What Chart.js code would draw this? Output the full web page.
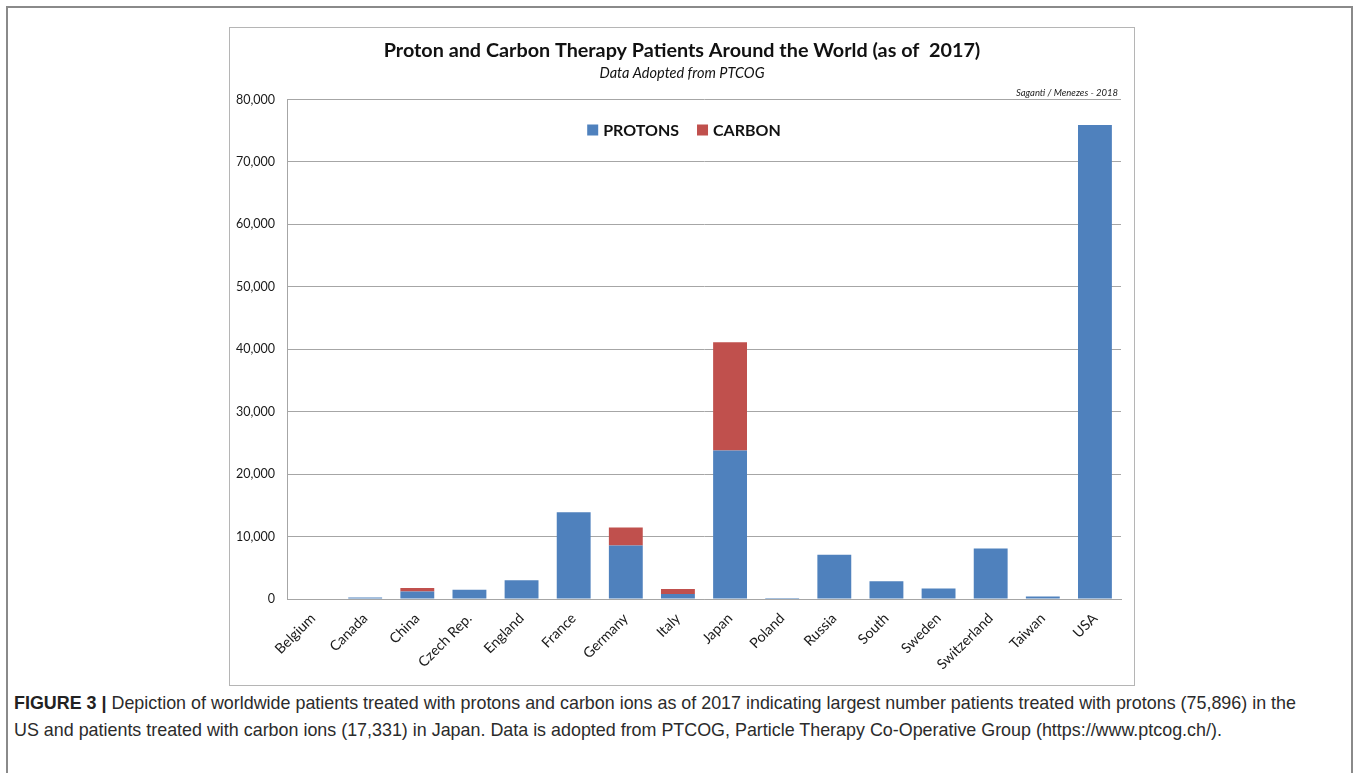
<!DOCTYPE html>
<html>
<head>
<meta charset="utf-8">
<script src="https://cdn.jsdelivr.net/npm/chart.js@4.4.1/dist/chart.umd.min.js"></script>
<style>
  html, body { margin: 0; padding: 0; background: #fff; }
  body { width: 1362px; height: 773px; position: relative; overflow: hidden; }
  #frame {
    position: absolute; left: 6px; top: 6px; width: 1347px; height: 820px;
    border: 2px solid #8a8a8a; box-sizing: border-box;
  }
  #box {
    position: absolute; left: 229px; top: 27px; width: 906px; height: 659px;
    border: 1px solid #b5b5b5; box-sizing: border-box;
  }
  #box canvas { position: absolute; left: 0; top: 0; }
  #caption {
    position: absolute; left: 14px; top: 690px; width: 1340px;
    font-family: "Liberation Sans", Arial, sans-serif; font-size: 17.9px;
    line-height: 27px; color: #2b2b2b; white-space: nowrap;
  }
  #caption b { color: #222; }
</style>
</head>
<body>
<div id="frame"></div>
<div id="box"><canvas id="chart" width="904" height="657"></canvas></div>
<div id="caption"><b>FIGURE 3 |</b> Depiction of worldwide patients treated with protons and carbon ions as of 2017 indicating largest number patients treated with protons (75,896) in the<br>US and patients treated with carbon ions (17,331) in Japan. Data is adopted from PTCOG, Particle Therapy Co-Operative Group (https://www.ptcog.ch/).</div>
<script>
const countries = ["Belgium", "Canada", "China", "Czech Rep.", "England", "France", "Germany", "Italy",
  "Japan", "Poland", "Russia", "South", "Sweden", "Switzerland", "Taiwan", "USA"]
const protons = [0, 250, 1200, 1500, 3000, 13900, 8550, 800, 23800, 150, 7100, 2850, 1700, 8100, 400, 75896]
const carbon = [0, 0, 560, 0, 0, 0, 2900, 800, 17331, 0, 0, 0, 0, 0, 0, 0]
const yTicks = [0, 10000, 20000, 30000, 40000, 50000, 60000, 70000, 80000]

const FONT = 'Lato, "Open Sans", sans-serif'
const TITLE = "Proton and Carbon Therapy Patients Around the World (as of  2017)"
const SUBTITLE = "Data Adopted from PTCOG"
const CREDIT = "Saganti / Menezes - 2018"

// title, subtitle and credit, centred on the whole canvas like the Excel original
const headings = {
  id: "headings",
  afterDraw: (chart) => {
    const { ctx, chartArea } = chart
    const cx = chart.width / 2
    ctx.save()
    ctx.fillStyle = "#111"
    ctx.textAlign = "center"
    ctx.textBaseline = "middle"
    ctx.font = "bold 19.8px " + FONT
    ctx.fillText(TITLE, cx, 22.5)
    ctx.font = "italic 14.5px " + FONT
    ctx.fillText(SUBTITLE, cx, 45.5)
    ctx.font = "italic 9.5px " + FONT
    ctx.fillStyle = "#222"
    ctx.textAlign = "right"
    ctx.textBaseline = "alphabetic"
    ctx.fillText(CREDIT, chartArea.right - 3, chartArea.top - 4)
    ctx.restore()
  },
}

// horizontal legend drawn inside the plot, centred on the canvas
const insideLegend = {
  id: "insideLegend",
  afterDraw: (chart) => {
    const { ctx, chartArea } = chart
    const sets = chart.data.datasets
    const box = 11, gap = 5, spacing = 18
    ctx.save()
    ctx.font = "bold 16px " + FONT
    const widths = sets.map((d) => ctx.measureText(d.label).width)
    const total = widths.reduce((a, w) => a + box + gap + w, 0) + spacing * (sets.length - 1)
    let x = chart.width / 2 - total / 2 + 2
    const y = chartArea.top + 30.5
    ctx.textBaseline = "middle"
    sets.forEach((d, i) => {
      ctx.fillStyle = d.backgroundColor
      ctx.fillRect(x, y - box / 2, box, box)
      ctx.fillStyle = "#111"
      ctx.fillText(d.label, x + box + gap, y + 1)
      x += box + gap + widths[i] + spacing
    })
    ctx.restore()
  },
}

new Chart(document.getElementById("chart"), {
  type: "bar",
  plugins: [headings, insideLegend],
  data: {
    labels: countries,
    datasets: [
      { label: "PROTONS", data: protons, backgroundColor: "#4f81bd", barPercentage: 0.65, categoryPercentage: 1 },
      { label: "CARBON", data: carbon, backgroundColor: "#c0504d", barPercentage: 0.65, categoryPercentage: 1 },
    ],
  },
  options: {
    responsive: false,
    animation: false,
    layout: { padding: { left: 0, right: 13, top: 71.5, bottom: 0 } },
    scales: {
      x: {
        stacked: true,
        grid: { display: false },
        border: { color: "#a6a6a6" },
        ticks: { color: "#1a1a1a", font: { family: FONT, size: 14.2 }, minRotation: 45, maxRotation: 45, padding: 3 },
        afterFit: (axis) => { axis.height = 86 },
      },
      y: {
        stacked: true,
        min: 0,
        max: 80000,
        afterBuildTicks: (axis) => { axis.ticks = yTicks.map((v) => ({ value: v })) },
        grid: { color: "#a6a6a6", drawTicks: false },
        border: { color: "#a6a6a6" },
        ticks: {
          color: "#1a1a1a",
          font: { family: FONT, size: 12.5 },
          padding: 12,
          callback: (v) => v.toLocaleString("en-US"),
        },
        afterFit: (axis) => { axis.width = 57 },
      },
    },
    plugins: {
      title: { display: false },
      legend: { display: false },
      tooltip: { enabled: false },
    },
  },
})
</script>
</body>
</html>
